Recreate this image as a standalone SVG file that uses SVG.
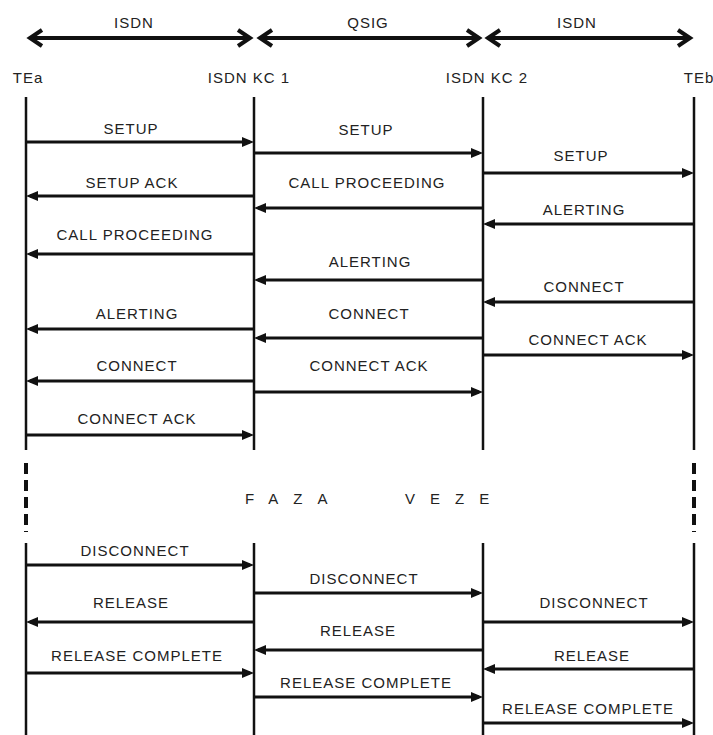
<svg xmlns="http://www.w3.org/2000/svg" width="713" height="735" viewBox="0 0 713 735">
<style>
text{font-family:"Liberation Sans","DejaVu Sans",sans-serif;font-size:15px;fill:#222;letter-spacing:1px;text-anchor:middle}
.life{stroke:#111;stroke-width:2.5;fill:none}
.dash{stroke:#111;stroke-width:4;stroke-dasharray:11 6;fill:none}
.msg{stroke:#111;stroke-width:3;fill:none}
.r{marker-end:url(#tri)}
.span{stroke:#111;stroke-width:4;fill:none;marker-start:url(#chev);marker-end:url(#chev)}
.faza{letter-spacing:15px;text-anchor:start}
</style>
<defs>
<marker id="tri" markerUnits="userSpaceOnUse" viewBox="0 0 12 10" markerWidth="12" markerHeight="10" refX="8" refY="5" orient="auto-start-reverse">
<path d="M0,0 L12,5 L0,10 Z" fill="#111"/>
</marker>
<marker id="chev" markerUnits="userSpaceOnUse" viewBox="0 0 20 20" markerWidth="20" markerHeight="20" refX="16" refY="10" orient="auto-start-reverse">
<path d="M4,2 L16,10 L4,18" fill="none" stroke="#111" stroke-width="4" stroke-linejoin="miter"/>
</marker>
</defs>
<rect width="713" height="735" fill="#fff"/>

<g id="spans">
<line class="span" x1="30" y1="38" x2="250" y2="38"/>
<text x="134" y="28">ISDN</text>
<line class="span" x1="260" y1="38" x2="479" y2="38"/>
<text x="368" y="28">QSIG</text>
<line class="span" x1="488" y1="38" x2="690" y2="38"/>
<text x="577" y="28">ISDN</text>
</g>

<g id="TEa">
<text x="28" y="83">TEa</text>
<line class="life" x1="26" y1="97" x2="26" y2="450"/>
<line class="dash" x1="26" y1="463" x2="26" y2="532"/>
<line class="life" x1="26" y1="543" x2="26" y2="735"/>
</g>
<g id="KC1">
<text x="249" y="83">ISDN KC 1</text>
<line class="life" x1="254" y1="97" x2="254" y2="450"/>
<line class="life" x1="254" y1="543" x2="254" y2="735"/>
</g>
<g id="KC2">
<text x="487" y="83">ISDN KC 2</text>
<line class="life" x1="483" y1="97" x2="483" y2="450"/>
<line class="life" x1="483" y1="543" x2="483" y2="735"/>
</g>
<g id="TEb">
<text x="699" y="83">TEb</text>
<line class="life" x1="694" y1="97" x2="694" y2="450"/>
<line class="dash" x1="694" y1="463" x2="694" y2="532"/>
<line class="life" x1="694" y1="543" x2="694" y2="735"/>
</g>

<g id="faza">
<text class="faza" x="245" y="504">FAZA</text>
<text class="faza" x="405" y="504">VEZE</text>
</g>

<g id="connectors">
<!-- TEa - KC1 -->
<line class="msg r" x1="26" y1="142" x2="250" y2="142"/><text x="131" y="134">SETUP</text>
<line class="msg r" x1="254" y1="196" x2="30" y2="196"/><text x="132" y="188">SETUP ACK</text>
<line class="msg r" x1="254" y1="254" x2="30" y2="254"/><text x="135" y="240">CALL PROCEEDING</text>
<line class="msg r" x1="254" y1="329" x2="30" y2="329"/><text x="137" y="319">ALERTING</text>
<line class="msg r" x1="254" y1="381" x2="30" y2="381"/><text x="137" y="371">CONNECT</text>
<line class="msg r" x1="26" y1="435" x2="250" y2="435"/><text x="137" y="424">CONNECT ACK</text>
<!-- KC1 - KC2 -->
<line class="msg r" x1="254" y1="153" x2="479" y2="153"/><text x="366" y="135">SETUP</text>
<line class="msg r" x1="483" y1="208" x2="258" y2="208"/><text x="367" y="188">CALL PROCEEDING</text>
<line class="msg r" x1="483" y1="280" x2="258" y2="280"/><text x="370" y="267">ALERTING</text>
<line class="msg r" x1="483" y1="338" x2="258" y2="338"/><text x="369" y="319">CONNECT</text>
<line class="msg r" x1="254" y1="392" x2="479" y2="392"/><text x="369" y="371">CONNECT ACK</text>
<!-- KC2 - TEb -->
<line class="msg r" x1="483" y1="173" x2="690" y2="173"/><text x="581" y="161">SETUP</text>
<line class="msg r" x1="694" y1="224" x2="487" y2="224"/><text x="584" y="215">ALERTING</text>
<line class="msg r" x1="694" y1="302" x2="487" y2="302"/><text x="584" y="292">CONNECT</text>
<line class="msg r" x1="483" y1="355" x2="690" y2="355"/><text x="588" y="345">CONNECT ACK</text>
<!-- bottom TEa - KC1 -->
<line class="msg r" x1="26" y1="565" x2="250" y2="565"/><text x="135" y="556">DISCONNECT</text>
<line class="msg r" x1="254" y1="622" x2="30" y2="622"/><text x="131" y="608">RELEASE</text>
<line class="msg r" x1="26" y1="673" x2="250" y2="673"/><text x="137" y="661">RELEASE COMPLETE</text>
<!-- bottom KC1 - KC2 -->
<line class="msg r" x1="254" y1="593" x2="479" y2="593"/><text x="364" y="584">DISCONNECT</text>
<line class="msg r" x1="483" y1="650" x2="258" y2="650"/><text x="358" y="636">RELEASE</text>
<line class="msg r" x1="254" y1="697" x2="479" y2="697"/><text x="366" y="688">RELEASE COMPLETE</text>
<!-- bottom KC2 - TEb -->
<line class="msg r" x1="483" y1="622" x2="690" y2="622"/><text x="594" y="608">DISCONNECT</text>
<line class="msg r" x1="694" y1="669" x2="487" y2="669"/><text x="592" y="661">RELEASE</text>
<line class="msg r" x1="483" y1="723" x2="690" y2="723"/><text x="588" y="714">RELEASE COMPLETE</text>
</g>
</svg>
